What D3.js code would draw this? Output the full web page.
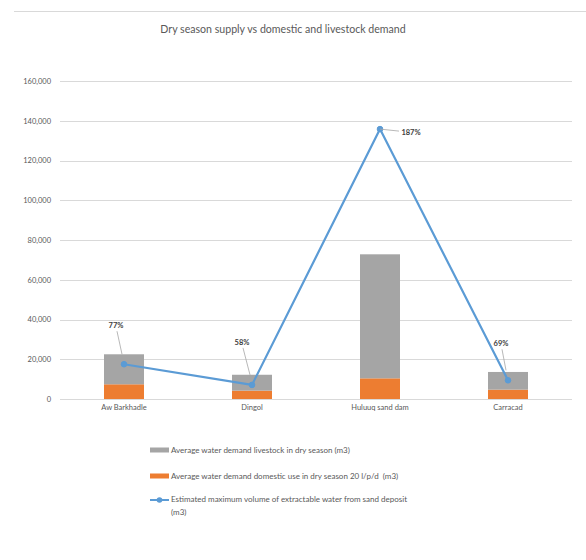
<!DOCTYPE html>
<html><head><meta charset="utf-8">
<script src="https://cdn.jsdelivr.net/npm/d3@7"></script>
<style>
html,body{margin:0;padding:0;background:#fff;}
svg{display:block;font-family:Lato,"Open Sans",sans-serif;}
text{white-space:pre;}
</style></head>
<body>
<svg id="chart" width="586" height="560"></svg>
<script>
const categories = ["Aw Barkhadle", "Dingol", "Huluuq sand dam", "Carracad"];
const domestic = [7400, 4200, 10400, 4700];
const livestock = [15100, 8000, 62400, 8900];
const supply = [17500, 7100, 135800, 9400];
const pctLabels = ["77%", "58%", "187%", "69%"];
const yTicks = [0, 20000, 40000, 60000, 80000, 100000, 120000, 140000, 160000];
const seriesNames = [
  "Average water demand livestock in dry season (m3)",
  "Average water demand domestic use in dry season 20 l/p/d  (m3)",
  "Estimated maximum volume of extractable water from sand deposit"
];

// layout (not data)
const labelOffsets = [[-8,-39],[-10,-43],[31,3],[-7,-37]];

const svg = d3.select("#chart");
const x = d3.scaleBand().domain(categories).range([60, 572]).paddingInner(0.6875).paddingOuter(0.34375);
const y = d3.scaleLinear().domain([0,160000]).range([399, 81]);

svg.append("line").attr("x1",14).attr("x2",586).attr("y1",11.5).attr("y2",11.5)
  .attr("stroke","#d9d9d9").attr("stroke-width",1);

svg.append("text").attr("x",283).attr("y",33).attr("text-anchor","middle")
  .attr("font-size",10.6).attr("fill","#595959").text("Dry season supply vs domestic and livestock demand");

svg.append("g").selectAll("line").data(yTicks).join("line")
  .attr("x1",60).attr("x2",572).attr("y1",d=>Math.round(y(d))+0.5).attr("y2",d=>Math.round(y(d))+0.5)
  .attr("stroke","#d9d9d9").attr("stroke-width",1);

const yAxis = d3.axisLeft(y).tickValues(yTicks).tickFormat(d3.format(",")).tickSize(0).tickPadding(0);
const ga = svg.append("g").attr("transform","translate(51,0)").call(yAxis);
ga.select(".domain").remove();
ga.selectAll("text").attr("font-size",7.5).attr("fill","#595959").attr("font-family","Lato,sans-serif");

const stackData = categories.map((c,i)=>({cat:c, domestic:domestic[i], livestock:livestock[i]}));
const stack = d3.stack().keys(["domestic","livestock"])(stackData);
const colors = {domestic:"#ED7D31", livestock:"#A5A5A5"};
svg.append("g").selectAll("g").data(stack).join("g").attr("fill",d=>colors[d.key])
  .selectAll("rect").data(d=>d).join("rect")
  .attr("x",d=>x(d.data.cat)).attr("width",x.bandwidth())
  .attr("y",d=>y(d[1])).attr("height",d=>y(d[0])-y(d[1]));

svg.append("line").attr("x1",60).attr("x2",572).attr("y1",399.5).attr("y2",399.5).attr("stroke","#d9d9d9");

const xAxis = d3.axisBottom(x).tickSize(0).tickPadding(0);
const gx = svg.append("g").attr("transform","translate(0,405)").call(xAxis);
gx.select(".domain").remove();
gx.selectAll("text").attr("font-size",7.5).attr("fill","#595959").attr("font-family","Lato,sans-serif").attr("dy","0.71em");

const cx = c => x(c) + x.bandwidth()/2;
const line = d3.line().x((d,i)=>cx(categories[i])).y(d=>y(d));
svg.append("path").datum(supply).attr("d",line).attr("fill","none")
  .attr("stroke","#5B9BD5").attr("stroke-width",2.2).attr("stroke-linejoin","round");
svg.append("g").selectAll("circle").data(supply).join("circle")
  .attr("cx",(d,i)=>cx(categories[i])).attr("cy",d=>y(d)).attr("r",2.8)
  .attr("fill","#5B9BD5").attr("stroke","#5B9BD5");

supply.forEach((v,i)=>{
  const px = cx(categories[i]), py = y(v);
  const [dx,dy] = labelOffsets[i];
  const lx = px+dx, ly = py+dy;
  if (dx > 20) {
    svg.append("line").attr("x1",px).attr("y1",py).attr("x2",lx-12).attr("y2",ly-1)
      .attr("stroke","#a6a6a6").attr("stroke-width",0.8);
  } else {
    svg.append("line").attr("x1",lx+1).attr("y1",ly+6).attr("x2",px-2).attr("y2",py-10)
      .attr("stroke","#a6a6a6").attr("stroke-width",0.8);
  }
  svg.append("text").attr("x",lx).attr("y",ly).attr("dy","0.35em").attr("text-anchor","middle")
    .attr("font-size",7.5).attr("font-weight","bold").attr("fill","#404040").text(pctLabels[i]);
});

const lg = svg.append("g").attr("font-size",8).attr("fill","#595959");
lg.append("rect").attr("x",150).attr("y",447.5).attr("width",19).attr("height",5).attr("fill","#A5A5A5");
lg.append("text").attr("x",171).attr("y",450).attr("dy","0.35em").attr("fill","#595959").text(seriesNames[0]);
lg.append("rect").attr("x",150).attr("y",473.5).attr("width",19).attr("height",5).attr("fill","#ED7D31");
lg.append("text").attr("x",171).attr("y",476).attr("dy","0.35em").attr("fill","#595959").text(seriesNames[1]);
lg.append("line").attr("x1",150).attr("x2",169).attr("y1",500).attr("y2",500).attr("stroke","#5B9BD5").attr("stroke-width",2);
lg.append("circle").attr("cx",159.5).attr("cy",500).attr("r",2.8).attr("fill","#5B9BD5");
lg.append("text").attr("x",171).attr("y",499).attr("dy","0.35em").attr("fill","#595959").text(seriesNames[2]);
lg.append("text").attr("x",171).attr("y",512).attr("dy","0.35em").attr("fill","#595959").text("(m3)");
</script>
</body></html>
